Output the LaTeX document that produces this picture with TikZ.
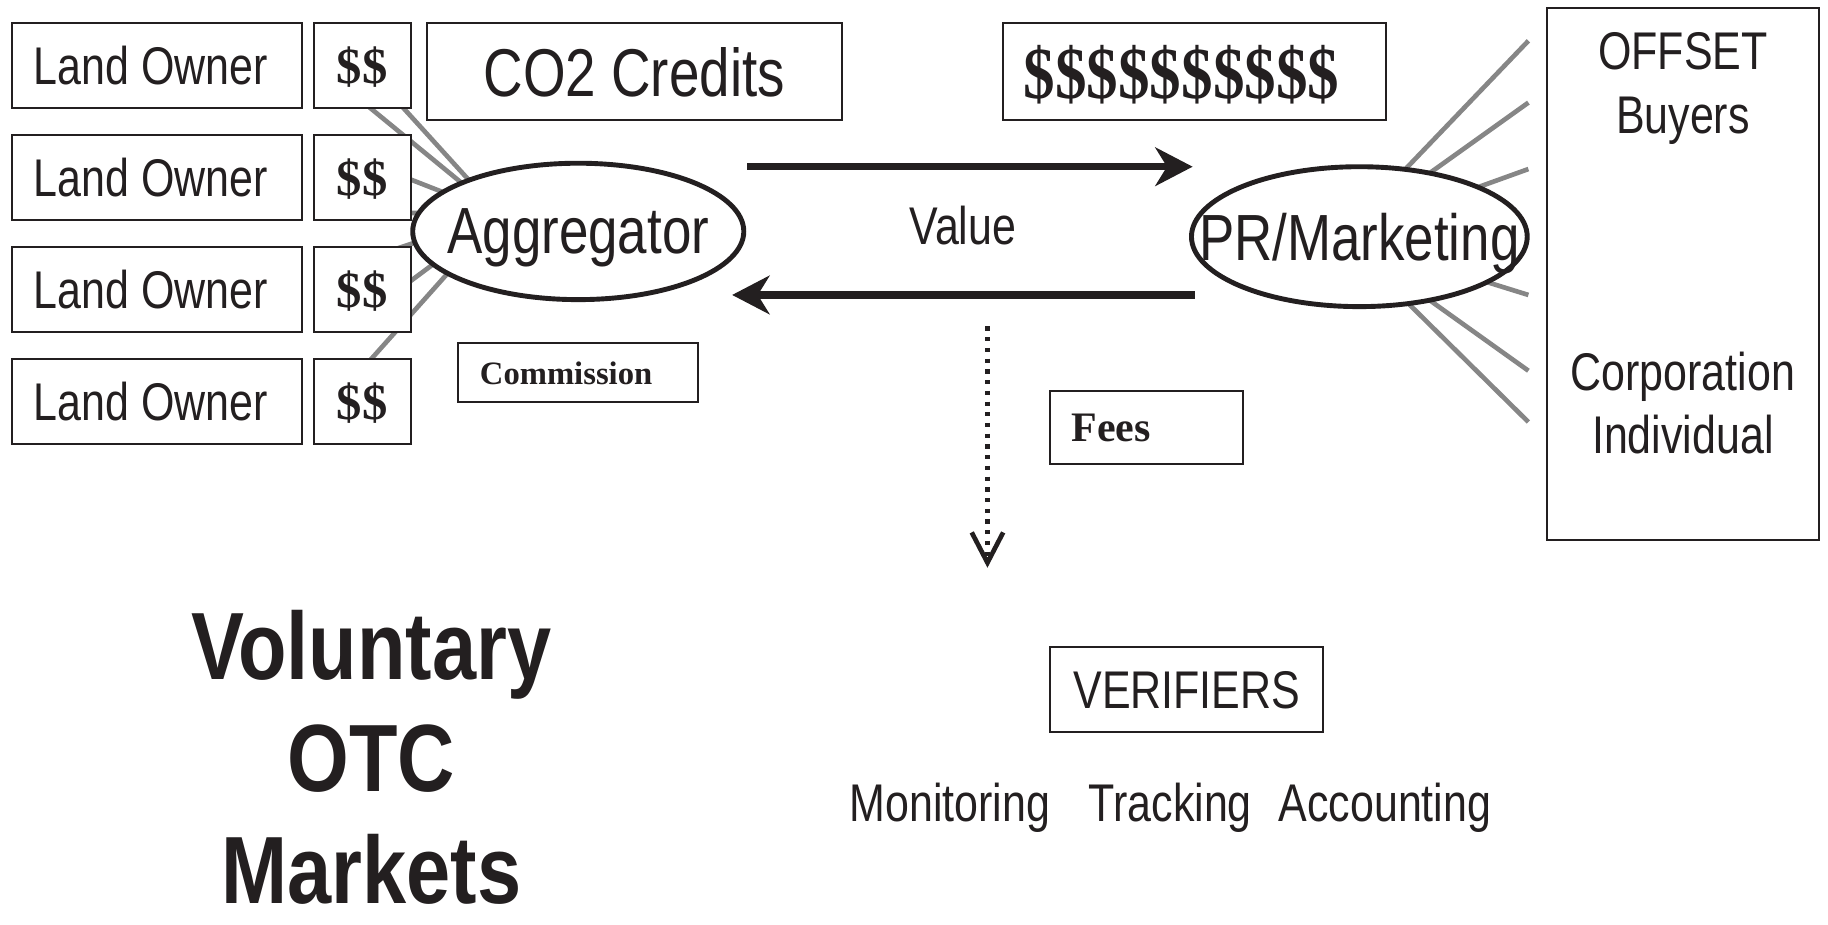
\documentclass[tikz,border=0pt]{standalone}
\usepackage{fontspec}
\usepackage{graphicx}
\usetikzlibrary{arrows.meta,shapes.geometric}
\newfontfamily\nsans[FakeStretch=0.81]{Liberation Sans}
\newfontfamily\vsans[FakeStretch=0.83]{Liberation Sans}
\newfontfamily\tserif{Liberation Serif}
\definecolor{ink}{RGB}{35,31,32}
\definecolor{lgray}{RGB}{134,134,134}
\begin{document}
\begin{tikzpicture}[x=0.5pt,y=-0.5pt,
  every node/.style={text=ink},
  boxbase/.style={draw=ink, line width=0.9pt, fill=white, inner sep=0pt, text depth=0pt},
  lobox/.style={boxbase, minimum width=124.5pt, minimum height=36.25pt,
     font=\nsans\fontsize{22.75pt}{26pt}\selectfont},
  dollarbox/.style={boxbase, minimum width=41.8pt, minimum height=36.25pt,
     font=\tserif\bfseries\fontsize{21.75pt}{24pt}\selectfont},
  bigbox/.style={boxbase, minimum width=178pt, minimum height=41.5pt},
  oval/.style={ellipse, draw=ink, line width=2.1pt, fill=white, inner sep=0pt, text depth=0pt,
     font=\nsans\fontsize{28pt}{32pt}\selectfont},
  plain/.style={font=\nsans\fontsize{22.75pt}{26pt}\selectfont, inner sep=0pt, anchor=base},
  bigtitle/.style={font=\vsans\bfseries\fontsize{41pt}{48pt}\selectfont, inner sep=0pt, anchor=base},
  feebox/.style={boxbase, align=left, font=\tserif\bfseries},
  grayline/.style={draw=lgray, line width=2pt},
  flow/.style={draw=ink, line width=3.15pt, -{Stealth[length=16pt,width=16.5pt,inset=5pt]}},
  dotflow/.style={draw=ink, line width=1.8pt, dash pattern=on 1.8pt off 2.8pt,
     -{Straight Barb[length=13pt,width=13.5pt,line width=2pt]}}
]
\useasboundingbox (0,0) rectangle (1568,793);

% fan lines (behind boxes and ovals)
\coordinate (fanL) at (429,184);
\coordinate (gl1) at (290,70);
\coordinate (gl2) at (330,75);
\coordinate (gl3) at (326,143.7);
\coordinate (gl4) at (326,182.2);
\coordinate (gl5) at (326,218);
\coordinate (gl6) at (326,260.5);
\coordinate (gl7) at (305,323);
\foreach \g in {gl1,gl2,gl3,gl4,gl5,gl6,gl7} \draw[grayline] (fanL) -- (\g);

\coordinate (fanR) at (1150,203);
\coordinate (gr1) at (1311,35);
\coordinate (gr2) at (1311,88);
\coordinate (gr3) at (1311,145);
\coordinate (gr4) at (1311,253);
\coordinate (gr5) at (1311,318);
\coordinate (gr6) at (1311,362);
\foreach \g in {gr1,gr2,gr3,gr4,gr5,gr6} \draw[grayline] (fanR) -- (\g);

% land owners
\node[lobox] (lo1) at (134.5,56.2) {Land Owner\kern5pt};
\node[lobox] (lo2) at (134.5,152.3) {Land Owner\kern5pt};
\node[lobox] (lo3) at (134.5,248.4) {Land Owner\kern5pt};
\node[lobox] (lo4) at (134.5,344.5) {Land Owner\kern5pt};
\node[dollarbox] (d1) at (310.8,56.2) {\$\$};
\node[dollarbox] (d2) at (310.8,152.3) {\$\$};
\node[dollarbox] (d3) at (310.8,248.4) {\$\$};
\node[dollarbox] (d4) at (310.8,344.5) {\$\$};

% top boxes
\node[bigbox, font=\nsans\fontsize{29pt}{32pt}\selectfont] (co2) at (544,61.5) {CO2 Credits};
\node[boxbase, minimum width=164.5pt, minimum height=41.5pt,
      font=\tserif\bfseries\fontsize{31.5pt}{34pt}\selectfont] (money) at (1024.5,61.5)
      {\scalebox{0.86}[1]{\$\$\$\$\$\$\$\$\$\$}\kern11pt};

% ovals
\node[oval, minimum width=142pt, minimum height=58.5pt] (agg) at (496,198.5) {\makebox[0pt]{Aggregator}};
\node[oval, minimum width=144pt, minimum height=60pt] (pr) at (1166,203) {\makebox[0pt]{PR/Marketing}};

% value arrows
\coordinate (vA) at (641,143);
\coordinate (vB) at (1023,143);
\coordinate (vC) at (1025,253);
\coordinate (vD) at (628,253);
\draw[flow] (vA) -- (vB);
\draw[flow] (vC) -- (vD);
\node[plain] (value) at (826,210) {Value};

% commission and fees
\node[feebox, inner xsep=9.35pt, text width=84.3pt, minimum height=25.5pt,
      font=\tserif\bfseries\fontsize{14pt}{16pt}\selectfont] (comm) at (496,319.7) {Commission};
\node[feebox, inner xsep=9pt, text width=64.5pt, minimum height=31.25pt,
      font=\tserif\bfseries\fontsize{18pt}{20pt}\selectfont] (fees) at (983.5,366.5) {Fees};

% dotted arrow
\coordinate (fA) at (847,280);
\coordinate (fB) at (847,487);
\draw[dotflow] (fA) -- (fB);

% offset buyers
\node[boxbase, minimum width=116.5pt, minimum height=228pt] (buyers) at (1443.5,235) {};
\node[plain] (t1) at (1443.5,60) {OFFSET};
\node[plain] (t2) at (1443.5,114.5) {Buyers};
\node[plain] (t3) at (1443.5,335) {Corporation};
\node[plain] (t4) at (1443.5,389) {Individual};

% verifiers
\node[boxbase, minimum width=117pt, minimum height=36.5pt,
      font=\nsans\fontsize{22.75pt}{26pt}\selectfont] (ver) at (1018,591.5) {VERIFIERS};
\node[plain] (mta) at (1004,705) {Monitoring\hspace{16.5pt}Tracking\hspace{11.5pt}Accounting};

% title
\node[bigtitle] (v1) at (318.5,583) {Voluntary};
\node[bigtitle] (v2) at (318.5,679) {OTC};
\node[bigtitle] (v3) at (318.5,775) {Markets};
\end{tikzpicture}
\end{document}
